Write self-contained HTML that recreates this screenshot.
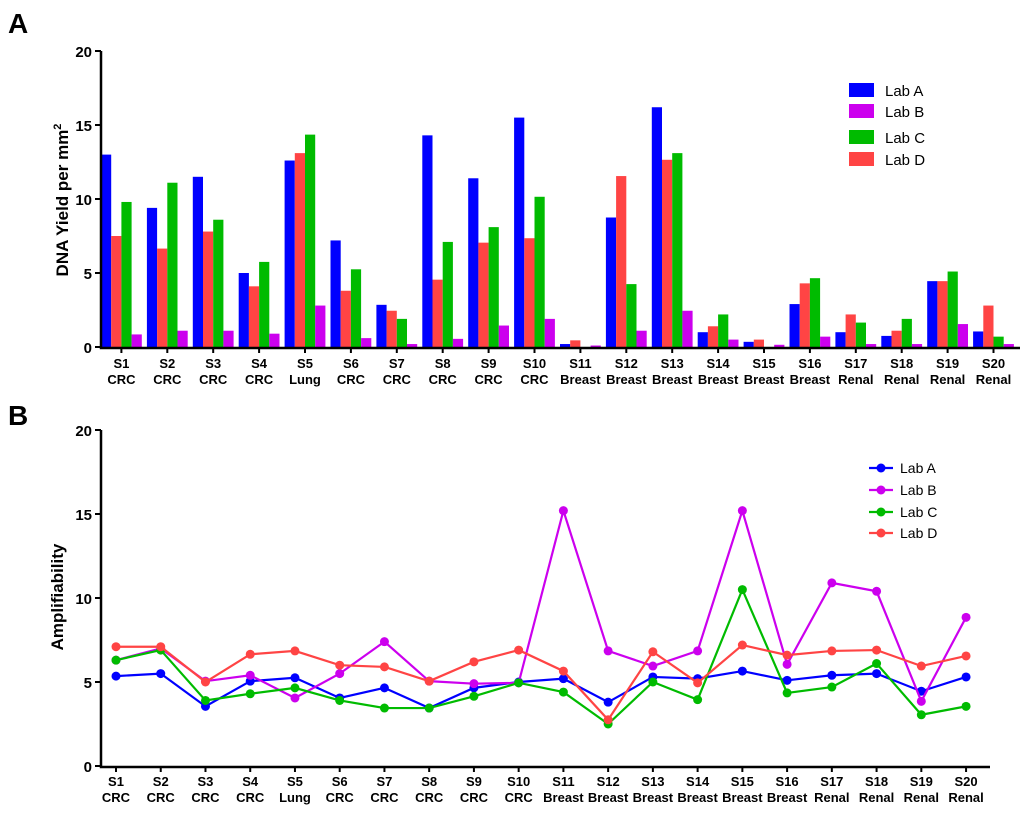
<!DOCTYPE html>
<html><head><meta charset="utf-8"><style>
body{margin:0;background:#fff;font-family:"Liberation Sans",Arial,sans-serif}
svg text{font-family:"Liberation Sans",Arial,sans-serif}
</style></head><body>
<svg id="c" width="1024" height="809" xmlns="http://www.w3.org/2000/svg"></svg>
<script>
const samples=["S1","S2","S3","S4","S5","S6","S7","S8","S9","S10","S11","S12","S13","S14","S15","S16","S17","S18","S19","S20"];
const tissues=["CRC","CRC","CRC","CRC","Lung","CRC","CRC","CRC","CRC","CRC","Breast","Breast","Breast","Breast","Breast","Breast","Renal","Renal","Renal","Renal"];
const yieldA=[13.0,9.4,11.5,5.0,12.6,7.2,2.85,14.3,11.4,15.5,0.2,8.75,16.2,1.0,0.35,2.9,1.0,0.75,4.45,1.05];
const yieldD=[7.5,6.65,7.8,4.1,13.1,3.8,2.45,4.55,7.05,7.35,0.45,11.55,12.65,1.4,0.5,4.3,2.2,1.1,4.45,2.8];
const yieldC=[9.8,11.1,8.6,5.75,14.35,5.25,1.9,7.1,8.1,10.15,0.0,4.25,13.1,2.2,0.0,4.65,1.65,1.9,5.1,0.7];
const yieldB=[0.85,1.1,1.1,0.9,2.8,0.6,0.2,0.55,1.45,1.9,0.1,1.1,2.45,0.5,0.15,0.7,0.2,0.2,1.55,0.2];
const ampA=[5.35,5.5,3.55,5.05,5.25,4.05,4.65,3.45,4.65,5.0,5.2,3.8,5.3,5.2,5.65,5.1,5.4,5.5,4.45,5.3];
const ampB=[6.3,7.0,5.05,5.4,4.05,5.5,7.4,5.05,4.9,4.95,15.2,6.85,5.95,6.85,15.2,6.05,10.9,10.4,3.85,8.85];
const ampC=[6.3,6.9,3.9,4.3,4.65,3.9,3.45,3.45,4.15,4.95,4.4,2.5,5.0,3.95,10.5,4.35,4.7,6.1,3.05,3.55];
const ampD=[7.1,7.1,5.0,6.65,6.85,6.0,5.9,5.05,6.2,6.9,5.65,2.75,6.8,4.95,7.2,6.6,6.85,6.9,5.95,6.55];
const yTicks=[0,5,10,15,20];

const svg=document.getElementById('c');const NS="http://www.w3.org/2000/svg";
function mk(t,a,txt){const e=document.createElementNS(NS,t);for(const k in a)e.setAttribute(k,a[k]);if(txt!==undefined)e.textContent=txt;svg.appendChild(e);return e;}
const blue="#0000ff",purple="#cc00ee",green="#00bb00",red="#ff4444";

// Panel A
const yA=v=>347-v*14.8;
const gx=i=>101+i*45.9;
let e;
e=mk('text',{x:8,y:33,'font-size':28,'font-weight':'bold'},'A');

const seriesA=[[yieldA,blue,'lab-a'],[yieldD,red,'lab-d'],[yieldC,green,'lab-c'],[yieldB,purple,'lab-b']];
seriesA.forEach((s,k)=>{s[0].forEach((v,i)=>{
 e=mk('rect',{x:gx(i)+k*10.2,y:yA(v),width:10.2,height:v*14.8,fill:s[1]});
 
 
});});
e=mk('path',{d:'M101,51 V348 H1020',stroke:'#000','stroke-width':2.5,fill:'none'});

yTicks.forEach(t=>{mk('line',{x1:95,x2:101,y1:yA(t),y2:yA(t),stroke:'#000','stroke-width':2});
 e=mk('text',{x:92,y:yA(t)+6,'font-size':15,'font-weight':'bold','text-anchor':'end'},t);
 });
samples.forEach((s,i)=>{const cx=gx(i)+20.4;
 mk('line',{x1:cx,x2:cx,y1:348,y2:353,stroke:'#000','stroke-width':2});
 e=mk('text',{x:cx,y:368,'font-size':13,'font-weight':'bold','text-anchor':'middle'},s);
 
 e=mk('text',{x:cx,y:384,'font-size':13,'font-weight':'bold','text-anchor':'middle'},tissues[i]);
 });
e=mk('text',{transform:'translate(68,200) rotate(-90)','font-size':17,'font-weight':'bold','text-anchor':'middle'});
e.innerHTML='DNA Yield per mm<tspan dy="-7" font-size="11">2</tspan>';

[['Lab A',blue,90],['Lab B',purple,111],['Lab C',green,137],['Lab D',red,159]].forEach(l=>{
 e=mk('rect',{x:849,y:l[2]-7,width:25,height:14,fill:l[1]});
 
 e=mk('text',{x:885,y:l[2]+6,'font-size':15},l[0]);
 });

// Panel B
const yB=v=>766-v*16.8;
const px=i=>116+i*44.74;
e=mk('text',{x:8,y:425,'font-size':28,'font-weight':'bold'},'B');

e=mk('path',{d:'M101,430 V767 H990',stroke:'#000','stroke-width':2.5,fill:'none'});

yTicks.forEach(t=>{mk('line',{x1:95,x2:101,y1:yB(t),y2:yB(t),stroke:'#000','stroke-width':2});
 e=mk('text',{x:92,y:yB(t)+6,'font-size':15,'font-weight':'bold','text-anchor':'end'},t);
 });
samples.forEach((s,i)=>{const cx=px(i);
 mk('line',{x1:cx,x2:cx,y1:767,y2:772,stroke:'#000','stroke-width':2});
 e=mk('text',{x:cx,y:786,'font-size':13,'font-weight':'bold','text-anchor':'middle'},s);
 
 e=mk('text',{x:cx,y:802,'font-size':13,'font-weight':'bold','text-anchor':'middle'},tissues[i]);
 });
e=mk('text',{transform:'translate(63,597) rotate(-90)','font-size':17,'font-weight':'bold','text-anchor':'middle'},'Amplifiability');

[[ampA,blue,'lab-a'],[ampB,purple,'lab-b'],[ampC,green,'lab-c'],[ampD,red,'lab-d']].forEach(s=>{
 e=mk('polyline',{points:s[0].map((v,i)=>px(i)+','+yB(v)).join(' '),fill:'none',stroke:s[1],'stroke-width':2.2});
 
 s[0].forEach((v,i)=>{e=mk('circle',{cx:px(i),cy:yB(v),r:4.5,fill:s[1]});
  });});
[['Lab A',blue,468],['Lab B',purple,490],['Lab C',green,512],['Lab D',red,533]].forEach(l=>{
 mk('line',{x1:869,x2:893,y1:l[2],y2:l[2],stroke:l[1],'stroke-width':2.2});
 e=mk('circle',{cx:881,cy:l[2],r:4.5,fill:l[1]});
 
 e=mk('text',{x:900,y:l[2]+5,'font-size':14},l[0]);
 });
</script>
</body></html>
